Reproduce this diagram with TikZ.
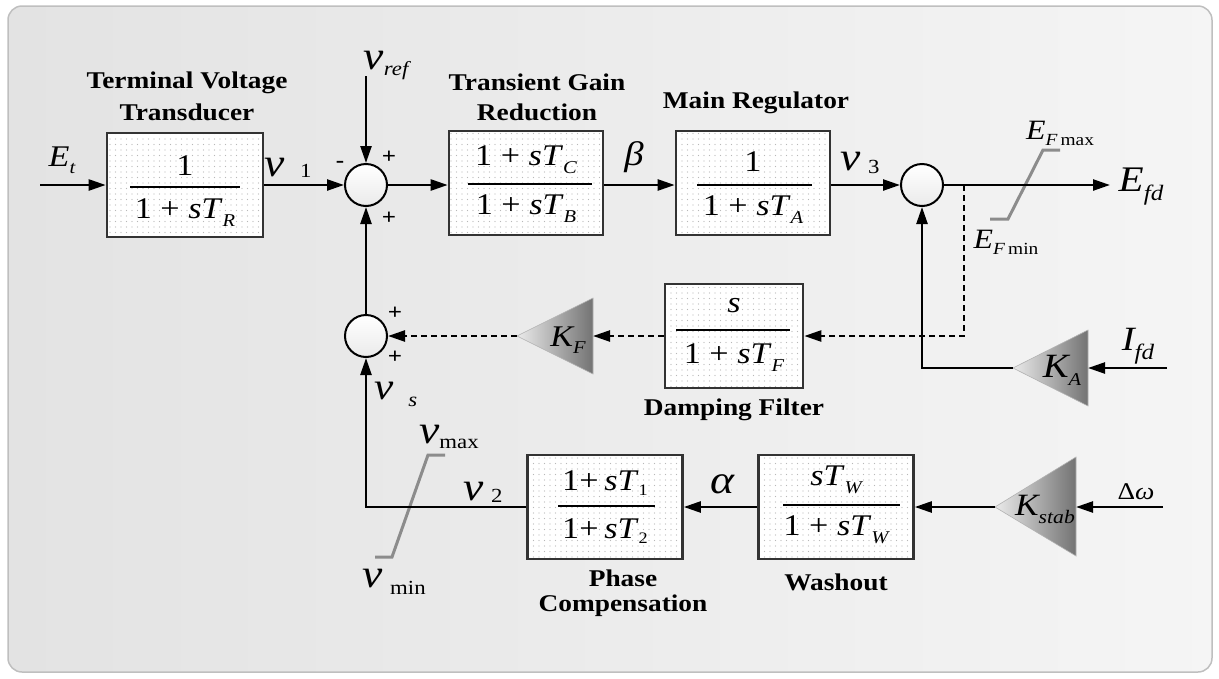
\documentclass[tikz,border=0pt]{standalone}
\usepackage{fontspec}
\setmainfont{Liberation Serif}
\usetikzlibrary{arrows.meta,patterns.meta}
\newcommand\fs[1]{\fontsize{#1}{#1}\selectfont}
\newcommand\dn[2]{\raisebox{-#1}{#2}}
\newcommand\hs[1]{\scalebox{1.14}[1]{#1}}
\begin{document}
\begin{tikzpicture}[x=1pt,y=-1pt,
  tfbox/.style={draw=black!80, line width=2.6pt, preaction={fill=white},
    pattern={Dots[distance=5.5pt, radius=0.6pt]}, pattern color=black!28,
    minimum height=104pt, inner sep=0pt},
  sumc/.style={circle, draw=black, line width=2pt, top color=white, bottom color=black!8,
    minimum size=42pt, inner sep=0pt},
  wire/.style={line width=2.4pt, -{Triangle[length=17pt,width=11pt]}},
  dwire/.style={wire, dash pattern=on 6pt off 4pt},
  fracline/.style={line width=1.6pt},
  lim/.style={draw=black!45, line width=3pt},
  gain/.style={left color=black!8, right color=black!55, draw=black!30, line width=0.6pt},
  ttl/.style={font=\bfseries\fs{24}, inner sep=0pt},
  num/.style={font=\fs{30}, inner sep=0pt},
  sgn/.style={font=\bfseries\fs{22}, inner sep=0pt},
  lbl/.style={inner sep=0pt}]
\useasboundingbox (0,0) rectangle (1219,678);
\draw[draw=black!25, line width=1.5pt, rounded corners=14pt, left color=black!11, right color=black!4]
  (8,6) rectangle (1212,672);

% ---------- blocks ----------
\node[tfbox, minimum width=156pt] (TR)  at (185,185) {};
\node[tfbox, minimum width=154pt] (TGR) at (526,183) {};
\node[tfbox, minimum width=154pt] (MR)  at (753,183) {};
\node[tfbox, minimum width=138pt] (DF)  at (734,336) {};
\node[tfbox, minimum width=155pt] (PC)  at (605,507) {};
\node[tfbox, minimum width=155pt] (WO)  at (836,507) {};

% fractions
\draw[fracline] (130,187) -- (240,187);
\node[num] (TRn) at (185,166) {\hs{1}};
\node[num] (TRd) at (185,213) {\hs{1 + \textit{sT}\dn{8pt}{\fs{18}\itshape R}}};
\draw[fracline] (468,184) -- (592,184);
\node[num] (TGRn) at (526,160) {\hs{1 + \textit{sT}\dn{8pt}{\fs{18}\itshape C}}};
\node[num] (TGRd) at (526,209) {\hs{1 + \textit{sT}\dn{8pt}{\fs{18}\itshape B}}};
\draw[fracline] (697,185) -- (812,185);
\node[num] (MRn) at (753,162) {\hs{1}};
\node[num] (MRd) at (753,210) {\hs{1 + \textit{sT}\dn{8pt}{\fs{18}\itshape A}}};
\draw[fracline] (676,330) -- (790,330);
\node[num] (DFn) at (734,306) {\hs{\textit{s}}};
\node[num] (DFd) at (734,358) {\hs{1 + \textit{sT}\dn{8pt}{\fs{18}\itshape F}}};
\draw[fracline] (558,506) -- (655,506);
\node[num] (PCn) at (605,483) {\hs{1+\,\textit{sT}\dn{5pt}{\fs{16}1}}};
\node[num] (PCd) at (605,531) {\hs{1+\,\textit{sT}\dn{5pt}{\fs{16}2}}};
\draw[fracline] (783,505) -- (900,505);
\node[num] (WOn) at (836,480) {\hs{\textit{sT}\dn{8pt}{\fs{18}\itshape W}}};
\node[num] (WOd) at (836,530) {\hs{1 + \textit{sT}\dn{8pt}{\fs{18}\itshape W}}};

% titles
\node[ttl] (tTR1)  at (187,83)  {\hs{Terminal Voltage}};
\node[ttl] (tTR2)  at (187,112) {\hs{Transducer}};
\node[ttl] (tTGR1) at (537,82)  {\hs{Transient Gain}};
\node[ttl] (tTGR2) at (537,112) {\hs{Reduction}};
\node[ttl] (tMR)   at (756,103) {\hs{Main Regulator}};
\node[ttl] (tDF)   at (734,410) {\hs{Damping Filter}};
\node[ttl] (tPC1)  at (623,578) {\hs{Phase}};
\node[ttl] (tPC2)  at (623,606) {\hs{Compensation}};
\node[ttl] (tWO)   at (836,582) {\hs{Washout}};

% ---------- summing junctions ----------
\node[sumc] (S1) at (366,185) {};
\node[sumc] (S2) at (922,185) {};
\node[sumc] (S3) at (366,336) {};
\node[sgn] (m1) at (340,164) {\hs{-}};
\node[sgn] (p1) at (389,157) {\hs{+}};
\node[sgn] (p2) at (389,218) {\hs{+}};
\node[sgn] (p3) at (395,313) {\hs{+}};
\node[sgn] (p4) at (395,357) {\hs{+}};

% ---------- gains ----------
\path[gain] (517,336) -- (593,298) -- (593,374) -- cycle;
\coordinate (KFtip) at (517,336); \coordinate (KFin) at (593,336);
\node[lbl] (KF) at (568,340) {\hs{\fs{30}\itshape K\dn{7pt}{\fs{18}F}}};
\path[gain] (1013,368) -- (1088,330) -- (1088,406) -- cycle;
\coordinate (KAtip) at (1013,368); \coordinate (KAin) at (1088,368);
\node[lbl] (KA) at (1062,370) {\hs{\fs{34}\itshape K\dn{8pt}{\fs{18}A}}};
\path[gain] (995,507) -- (1076,457) -- (1076,556) -- cycle;
\coordinate (KStip) at (995,507); \coordinate (KSin) at (1076,507);
\node[lbl] (KS) at (1045,509) {\hs{\fs{31}\itshape K\dn{8pt}{\fs{19}stab}}};

% ---------- limiters ----------
\draw[lim] (990,219) -- (1008,219) -- (1043,150) -- (1060,150);
\draw[lim] (375,557) -- (392,557) -- (428,455) -- (445,455);

% ---------- connectors ----------
\coordinate (Etin) at (40,185);
\coordinate (vrefin) at (366,76);
\coordinate (br) at (964,185);
\coordinate (Efdout) at (1110,185);
\coordinate (Ifdin) at (1167,368);
\coordinate (dwin) at (1163,507);
\draw[wire] (Etin) -- (TR.west);
\draw[wire] (TR.east) -- (S1.west);
\draw[wire] (vrefin) -- (S1.north);
\draw[wire] (S1.east) -- (S1.east -| TGR.west);
\draw[wire] (S1.east -| TGR.east) -- (S1.east -| MR.west);
\draw[wire] (S1.east -| MR.east) -- (S2.west);
\draw[wire] (S2.east) -- (Efdout);
\draw[dwire] (br) |- (DF.east);
\draw[dwire] (DF.west) -- (KFin);
\draw[dwire] (KFtip) -- (S3.east);
\draw[wire] (S3.north) -- (S1.south);
\draw[wire] (Ifdin) -- (KAin);
\draw[wire] (KAtip) -| (S2.south);
\draw[wire] (dwin) -- (KSin);
\draw[wire] (KStip) -- (WO.east);
\draw[wire] (WO.west) -- (PC.east);
\draw[wire] (PC.west) -| (S3.south);

% ---------- signal labels ----------
\node[lbl] (lEt) at (62,160) {\hs{\fs{30}\itshape E\dn{7pt}{\fs{18}t}}};
\node[lbl] (lv1) at (288,168) {\hs{\fs{40}\itshape v\,\,\dn{1pt}{\fs{20}\upshape 1}}};
\node[lbl] (lvref) at (386,65) {\hs{\fs{40}\itshape v\dn{6pt}{\fs{20}ref}}};
\node[lbl] (lbeta) at (634,157) {\hs{\fs{34}\itshape β}};
\node[lbl] (lv3) at (860,163) {\hs{\fs{40}\itshape v\,\dn{3pt}{\fs{20}\upshape 3}}};
\node[lbl] (lEfd) at (1141,187) {\hs{\fs{36}\itshape E\dn{9pt}{\fs{22}fd}}};
\node[lbl] (lEFmax) at (1060,133) {\hs{\fs{28}\itshape E\dn{6pt}{\fs{17}F\,\upshape max}}};
\node[lbl] (lEFmin) at (1006,242) {\hs{\fs{28}\itshape E\dn{6pt}{\fs{17}F\,\upshape min}}};
\node[lbl] (lIfd) at (1138,346) {\hs{\fs{34}\itshape I\dn{9pt}{\fs{22}fd}}};
\node[lbl] (lvs) at (396,394) {\hs{\fs{38}\itshape v\,\,\dn{7pt}{\fs{20}s}}};
\node[lbl] (lvmax) at (449,437) {\hs{\fs{40}\itshape v\dn{5pt}{\fs{20}\upshape max}}};
\node[lbl] (lvmin) at (394,582) {\hs{\fs{40}\itshape v\,\dn{7pt}{\fs{20}\upshape min}}};
\node[lbl] (lv2) at (483,492) {\hs{\fs{40}\itshape v\,\dn{2pt}{\fs{20}\upshape 2}}};
\node[lbl] (lalpha) at (722,484) {\hs{\fs{40}\itshape α}};
\node[lbl] (ldw) at (1136,492) {\hs{\fs{24}Δ\textit{ω}}};
\end{tikzpicture}
\end{document}
